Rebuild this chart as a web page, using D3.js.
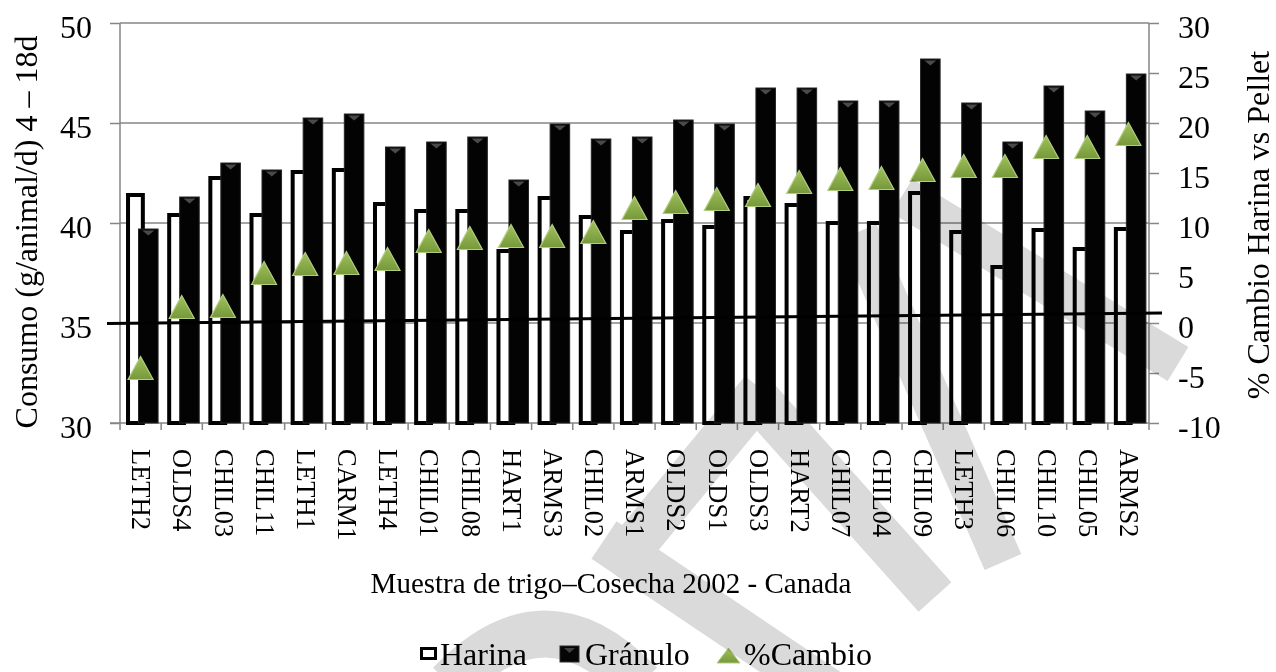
<!DOCTYPE html>
<html>
<head>
<meta charset="utf-8">
<script src="https://cdn.jsdelivr.net/npm/d3@7"></script>
<style>
  body { margin: 0; background: #fff; }
  svg { display: block; }
  svg text { font-family: "Liberation Serif", "Times New Roman", serif; fill: #000; }
</style>
</head>
<body>
<svg id="chart" width="1276" height="672"></svg>
<script>
// Muestras de trigo, cosecha 2002 (Canadá)
const muestras = ["LETH2","OLDS4","CHIL03","CHIL11","LETH1","CARM1","LETH4","CHIL01","CHIL08","HART1",
                  "ARMS3","CHIL02","ARMS1","OLDS2","OLDS1","OLDS3","HART2","CHIL07","CHIL04","CHIL09",
                  "LETH3","CHIL06","CHIL10","CHIL05","ARMS2"];
// Consumo (g/animal/d), 4 – 18 d
const harina  = [41.4, 40.4, 42.25, 40.4, 42.55, 42.65, 40.95, 40.6, 40.6, 38.6,
                 41.25, 40.3, 39.55, 40.1, 39.8, 41.25, 40.9, 40.0, 40.0, 41.5,
                 39.55, 37.8, 39.65, 38.7, 39.7];
const granulo = [39.7, 41.3, 43.0, 42.65, 45.25, 45.45, 43.8, 44.05, 44.3, 42.15,
                 44.95, 44.2, 44.3, 45.15, 44.95, 46.75, 46.75, 46.1, 46.1, 48.2,
                 46.0, 44.05, 46.85, 45.6, 47.45];
// % cambio harina vs pellet (eje derecho)
const cambio  = [-4.5, 1.6, 1.7, 5.0, 5.9, 6.0, 6.4, 8.2, 8.5, 8.7,
                 8.7, 9.1, 11.5, 12.1, 12.4, 12.8, 14.1, 14.4, 14.5, 15.3,
                 15.7, 15.7, 17.6, 17.6, 18.9];
// Línea de referencia (valores en % al inicio y al final)
const lineaRef = [-0.05, 1.0];

const consumoTicks = [30, 35, 40, 45, 50];
const cambioTicks  = [-10, -5, 0, 5, 10, 15, 20, 25, 30];
const leyenda = ["Harina", "Gránulo", "%Cambio"];

(function () {
const svg = d3.select("#chart");
const pL = 120, pR = 1149, pT = 23, pB = 423;
const axisColor = "#868686";
const serif = '"Liberation Serif", "Times New Roman", serif';

const x  = d3.scaleBand().domain(muestras).range([pL, pR]);
const yL = d3.scaleLinear().domain([30, 50]).range([pB, pT]);
const yR = d3.scaleLinear().domain([-10, 30]).range([pB, pT]);
const bw = x.bandwidth();

// gradient for the triangle markers
const defs = svg.append("defs");
const g1 = defs.append("linearGradient").attr("id", "verde").attr("x1", 0).attr("y1", 0).attr("x2", 0).attr("y2", 1);
g1.append("stop").attr("offset", "0%").attr("stop-color", "#9fc25c");
g1.append("stop").attr("offset", "100%").attr("stop-color", "#76983a");

// gridlines
svg.append("g").selectAll("line")
  .data(consumoTicks.filter(d => d !== 30))
  .join("line")
  .attr("x1", pL).attr("x2", pR)
  .attr("y1", d => yL(d)).attr("y2", d => yL(d))
  .attr("stroke", axisColor).attr("stroke-width", 1.5);

// left and right value axes
const axL = svg.append("g").attr("transform", `translate(${pL},0)`)
  .call(d3.axisLeft(yL).tickValues(consumoTicks).tickSize(10).tickPadding(18).tickFormat(d => String(d)));
const axR = svg.append("g").attr("transform", `translate(${pR},0)`)
  .call(d3.axisRight(yR).tickValues(cambioTicks).tickSize(10).tickPadding(19).tickFormat(d => String(d)));
[axL, axR].forEach(ax => {
  ax.select(".domain").remove();
  ax.selectAll(".tick line").attr("stroke", axisColor).attr("stroke-width", 1.5);
  ax.selectAll(".tick text").attr("font-size", 32).attr("dy", "0.44em")
    .style("font-family", serif).attr("fill", "#000");
});
svg.append("line").attr("x1", pL).attr("x2", pL).attr("y1", pT).attr("y2", pB)
  .attr("stroke", axisColor).attr("stroke-width", 1.5);
svg.append("line").attr("x1", pR).attr("x2", pR).attr("y1", pT).attr("y2", pB)
  .attr("stroke", axisColor).attr("stroke-width", 1.5);

// bottom axis: line and category boundary ticks
svg.append("line").attr("x1", pL - 10).attr("x2", pR).attr("y1", pB).attr("y2", pB)
  .attr("stroke", axisColor).attr("stroke-width", 1.5);
svg.append("g").selectAll("line")
  .data(muestras.map(m => x(m)).concat([x(muestras[muestras.length - 1]) + bw]))
  .join("line")
  .attr("x1", d => d).attr("x2", d => d)
  .attr("y1", pB).attr("y2", pB + 7)
  .attr("stroke", axisColor).attr("stroke-width", 1.5);

// category labels, rotated
svg.append("g").selectAll("text")
  .data(muestras)
  .join("text")
  .attr("transform", d => `translate(${x(d) + bw / 2 + 1},449) rotate(90)`)
  .attr("dy", "0.35em")
  .attr("font-size", 26.5)
  .style("font-family", serif)
  .text(d => d);

// Harina bars (outlined)
const data = muestras.map((m, i) => ({ m, h: harina[i], g: granulo[i], c: cambio[i] }));
svg.append("g").selectAll("rect")
  .data(data)
  .join("rect")
  .attr("x", d => x(d.m) + bw * 0.195)
  .attr("width", bw * 0.36)
  .attr("y", d => yL(d.h))
  .attr("height", d => yL(30) - yL(d.h))
  .attr("fill", "#fff").attr("stroke", "#000").attr("stroke-width", 4);

// Gránulo bars (solid)
const gr = svg.append("g");
gr.selectAll("rect")
  .data(data)
  .join("rect")
  .attr("x", d => x(d.m) + bw * 0.45)
  .attr("width", bw * 0.475)
  .attr("y", d => yL(d.g))
  .attr("height", d => yL(30) - yL(d.g))
  .attr("fill", "#030303").attr("stroke", "#262626").attr("stroke-width", 1);
gr.selectAll("path")
  .data(data)
  .join("path")
  .attr("d", d => {
    const cx = x(d.m) + bw * 0.6875, yy = yL(d.g) + 1.5;
    return `M${cx - 6},${yy}L${cx + 6},${yy}L${cx},${yy + 5}Z`;
  })
  .attr("fill", "#4a4a4a");

// %Cambio markers on the right axis
svg.append("g").selectAll("path")
  .data(data)
  .join("path")
  .attr("d", d => {
    const cx = x(d.m) + bw / 2, cy = yR(d.c);
    return `M${cx},${cy - 11.5}L${cx + 12.5},${cy + 11.5}L${cx - 12.5},${cy + 11.5}Z`;
  })
  .attr("fill", "url(#verde)").attr("stroke", "#b3cd7f").attr("stroke-width", 1.2);

// reference line across the plot
svg.append("line")
  .attr("x1", pL - 13).attr("x2", pR + 13)
  .attr("y1", yR(lineaRef[0])).attr("y2", yR(lineaRef[1]))
  .attr("stroke", "#000").attr("stroke-width", 3);

// axis titles
svg.append("text")
  .attr("transform", `translate(37,232) rotate(-90)`)
  .attr("text-anchor", "middle").attr("font-size", 32)
  .style("font-family", serif)
  .text("Consumo (g/animal/d)  4 – 18d");
svg.append("text")
  .attr("transform", `translate(1269,225) rotate(-90)`)
  .attr("text-anchor", "middle").attr("font-size", 32)
  .style("font-family", serif)
  .text("% Cambio Harina vs Pellet");
svg.append("text")
  .attr("x", 611).attr("y", 593)
  .attr("text-anchor", "middle").attr("font-size", 29)
  .style("font-family", serif)
  .text("Muestra de trigo–Cosecha 2002 - Canada");

// legend
const lg = svg.append("g");
lg.append("rect").attr("x", 421.5).attr("y", 648.5).attr("width", 14).attr("height", 10)
  .attr("fill", "#fff").attr("stroke", "#000").attr("stroke-width", 3);
lg.append("rect").attr("x", 560).attr("y", 646).attr("width", 19).attr("height", 16)
  .attr("fill", "#050505").attr("stroke", "#333").attr("stroke-width", 1);
lg.append("path").attr("d", "M564,648L575,648L569.5,653Z").attr("fill", "#4a4a4a");
lg.append("path").attr("d", "M728.5,648L740,663L717,663Z")
  .attr("fill", "url(#verde)").attr("stroke", "#b3cd7f").attr("stroke-width", 1);
lg.selectAll("text")
  .data(leyenda)
  .join("text")
  .attr("x", (d, i) => [440, 585, 744][i])
  .attr("y", 665)
  .attr("font-size", 32)
  .style("font-family", serif)
  .text(d => d);

// light grey watermark strokes laid over the page
const wm = svg.append("g").style("mix-blend-mode", "multiply").attr("fill", "none")
  .attr("stroke", "#dadada").attr("stroke-linecap", "butt");
const trazos = [
  { d: "M450,684 Q545,584 640,684", w: 47 },
  { d: "M612,572 L762,390", w: 44 },
  { d: "M604,540 L830,692", w: 45 },
  { d: "M750,390 L935,597", w: 44 },
  { d: "M858,232 L1003,562", w: 40 },
  { d: "M902,196 L1178,364", w: 40 }
];
wm.selectAll("path").data(trazos).join("path")
  .attr("d", t => t.d).attr("stroke-width", t => t.w);
})();
</script>
</body>
</html>
